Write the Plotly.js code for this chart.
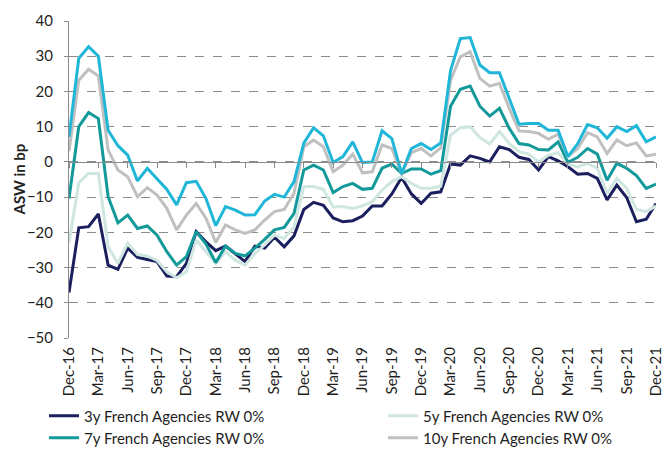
<!DOCTYPE html>
<html><head><meta charset="utf-8">
<script src="https://cdn.plot.ly/plotly-3.0.1.min.js"></script>
<style>html,body{margin:0;padding:0;background:#fff}#chart{width:667px;height:449px}</style>
</head><body><div id="chart"></div>
<script>
const months = ["Dec-16","Jan-17","Feb-17","Mar-17","Apr-17","May-17","Jun-17","Jul-17","Aug-17","Sep-17","Oct-17","Nov-17",
"Dec-17","Jan-18","Feb-18","Mar-18","Apr-18","May-18","Jun-18","Jul-18","Aug-18","Sep-18","Oct-18","Nov-18",
"Dec-18","Jan-19","Feb-19","Mar-19","Apr-19","May-19","Jun-19","Jul-19","Aug-19","Sep-19","Oct-19","Nov-19",
"Dec-19","Jan-20","Feb-20","Mar-20","Apr-20","May-20","Jun-20","Jul-20","Aug-20","Sep-20","Oct-20","Nov-20",
"Dec-20","Jan-21","Feb-21","Mar-21","Apr-21","May-21","Jun-21","Jul-21","Aug-21","Sep-21","Oct-21","Nov-21","Dec-21"];
const tickLabels = ["Dec-16","Mar-17","Jun-17","Sep-17","Dec-17","Mar-18","Jun-18","Sep-18","Dec-18","Mar-19","Jun-19","Sep-19","Dec-19","Mar-20","Jun-20","Sep-20","Dec-20","Mar-21","Jun-21","Sep-21","Dec-21"];
const yTitle = "ASW in bp";

const y3 = [-37.1,-18.7,-18.4,-14.8,-29.3,-30.5,-24.5,-27.1,-27.7,-28.3,-32.4,-32.6,-28.8,-19.8,-22.7,-25.2,-23.9,-26.2,-28.3,-23.9,-24.5,-21.4,-24.1,-21.0,-13.5,-11.5,-12.3,-15.9,-17.0,-16.7,-15.4,-12.5,-12.5,-9.1,-4.4,-9.1,-11.8,-8.9,-8.5,-0.6,-0.9,1.7,1.0,0.0,4.3,3.5,1.3,0.7,-2.3,1.5,0.3,-1.4,-3.5,-3.3,-4.7,-10.8,-6.6,-10.1,-17.0,-16.3,-11.8];
const y5 = [-23.0,-5.9,-3.3,-3.3,-24.1,-28.8,-23.1,-26.3,-26.7,-28.0,-31.2,-32.9,-31.2,-22.2,-25.5,-28.8,-25.5,-27.9,-29.3,-26.0,-23.6,-20.8,-21.7,-18.4,-7.0,-7.0,-7.8,-12.8,-12.7,-13.2,-12.5,-11.3,-8.0,-5.6,-4.2,-6.1,-7.5,-7.5,-6.9,7.6,9.7,10.0,6.9,5.1,8.6,5.2,2.9,2.2,0.0,1.9,2.6,-0.6,-1.4,-0.4,-1.8,-8.9,-4.7,-7.5,-13.5,-14.1,-12.5];
const y7 = [-10.4,10.0,14.0,12.3,-9.9,-17.3,-15.1,-18.9,-18.2,-20.8,-25.5,-29.3,-26.9,-19.8,-23.3,-28.6,-23.9,-26.0,-26.7,-24.5,-22.0,-19.3,-18.6,-14.6,-2.3,-0.9,-2.3,-8.7,-7.0,-6.1,-7.8,-7.5,-1.8,-0.6,-3.3,-2.0,-2.0,-3.5,-2.5,15.8,20.6,21.5,15.8,13.0,15.2,9.5,5.2,4.8,3.5,3.4,5.7,-0.1,1.3,3.8,2.2,-5.2,-0.4,-1.8,-3.9,-7.5,-6.3];
const y10 = [3.0,23.2,26.3,24.4,3.4,-2.3,-4.2,-9.9,-7.3,-9.4,-13.2,-19.3,-15.1,-11.8,-16.0,-22.9,-17.9,-19.3,-20.3,-19.3,-16.5,-14.1,-13.5,-8.9,4.3,6.2,4.3,-2.8,-0.9,2.2,-3.1,-2.8,4.8,3.8,-3.3,2.6,3.8,1.7,4.0,23.2,29.8,31.3,23.7,21.5,22.3,15.2,8.8,8.6,8.1,6.4,7.9,1.5,3.8,8.3,7.1,2.4,6.2,4.6,5.4,1.7,2.2];
const yTop = [7.1,29.4,32.7,30.0,9.0,4.6,1.9,-5.4,-1.8,-4.9,-7.8,-12.2,-5.9,-5.5,-10.4,-18.1,-12.7,-13.7,-15.1,-15.0,-11.1,-9.2,-10.0,-5.6,5.3,9.7,7.4,-0.2,1.5,5.7,-0.2,0.0,8.8,6.6,-3.3,3.8,5.2,3.5,5.4,25.9,35.0,35.3,27.5,25.3,25.3,18.0,10.7,10.9,10.9,9.0,9.0,1.5,5.2,10.6,9.7,6.7,10.0,8.6,10.3,5.7,7.1];

const names = ["3y French Agencies RW 0%","5y French Agencies RW 0%","7y French Agencies RW 0%","10y French Agencies RW 0%"];
const colors = ["#1b1f5e","#cfe6e1","#14999a","#c0c0c0","#1fb6d8"];
const FONT = "Lato, 'Open Sans', sans-serif";
const TXT = "#1f1f1f";

const series = [y3, y5, y7, y10];
const legendIds = ["legend", "legend2", "legend3", "legend4"];
const traces = series.map((ys, k) => ({
  type: "scatter", mode: "lines", x: months, y: ys, name: names[k],
  line: {color: colors[k], width: 3}, xaxis: "x", yaxis: "y", legend: legendIds[k]
}));
traces.push({type: "scatter", mode: "lines", x: months, y: yTop, name: "",
  showlegend: false, line: {color: colors[4], width: 3}, xaxis: "x", yaxis: "y"});
// invisible helper trace for the zero-line tick axis
traces.push({type: "scatter", mode: "lines", x: months, y: yTop, xaxis: "x2", yaxis: "y",
  showlegend: false, hoverinfo: "skip", line: {color: "rgba(0,0,0,0)", width: 0}});

const W = 667, H = 449;
function leg(xpx, ypx) {
  return {
    xref: "container", yref: "container",
    x: xpx / W, xanchor: "left", y: (H - ypx) / H, yanchor: "middle",
    font: {family: FONT, size: 15, color: TXT}, itemwidth: 30,
    bgcolor: "rgba(0,0,0,0)", borderwidth: 0
  };
}

const layout = {
  width: W, height: H,
  margin: {l: 69, r: 11, t: 21, b: 111, autoexpand: false},
  paper_bgcolor: "#fff", plot_bgcolor: "#fff",
  font: {family: FONT, size: 15, color: TXT},
  showlegend: true,
  xaxis: {
    type: "category", range: [0, 60], tickmode: "array",
    tickvals: tickLabels, ticktext: tickLabels, tickangle: -90,
    showgrid: false, zeroline: false, showline: false, ticks: "",
    ticklabelstandoff: 5,
    tickfont: {family: FONT, size: 15, color: TXT}, automargin: false
  },
  xaxis2: {
    type: "category", range: [0, 60], overlaying: "x", anchor: "free",
    position: 50/90, side: "bottom", tickmode: "array", tickvals: tickLabels,
    showticklabels: false, ticks: "outside", ticklen: 5, tickcolor: "#8c8c8c",
    showline: true, linecolor: "#8c8c8c", linewidth: 1, showgrid: false, zeroline: false,
    automargin: false
  },
  yaxis: {
    range: [-50, 40], dtick: 10, tick0: 0,
    showgrid: true, gridcolor: "#8c8c8c", gridwidth: 1, griddash: "dash",
    zeroline: false, showline: true, linecolor: "#8c8c8c", linewidth: 1,
    ticks: "outside", ticklen: 4, tickcolor: "#8c8c8c", ticklabelstandoff: 8,
    tickfont: {family: FONT, size: 15, color: TXT},
    automargin: false
  },
  annotations: [{
    text: "<b>" + yTitle + "</b>", textangle: -90, showarrow: false,
    xref: "paper", yref: "paper", x: (18 - 69) / 587, y: 0.5,
    xanchor: "center", yanchor: "middle",
    font: {family: FONT, size: 15, color: TXT}
  }],
  legend: leg(44, 416),
  legend2: leg(383, 416),
  legend3: leg(44, 438),
  legend4: leg(383, 438)
};

Plotly.newPlot("chart", traces, layout, {staticPlot: true, displayModeBar: false});
</script>
</body></html>
